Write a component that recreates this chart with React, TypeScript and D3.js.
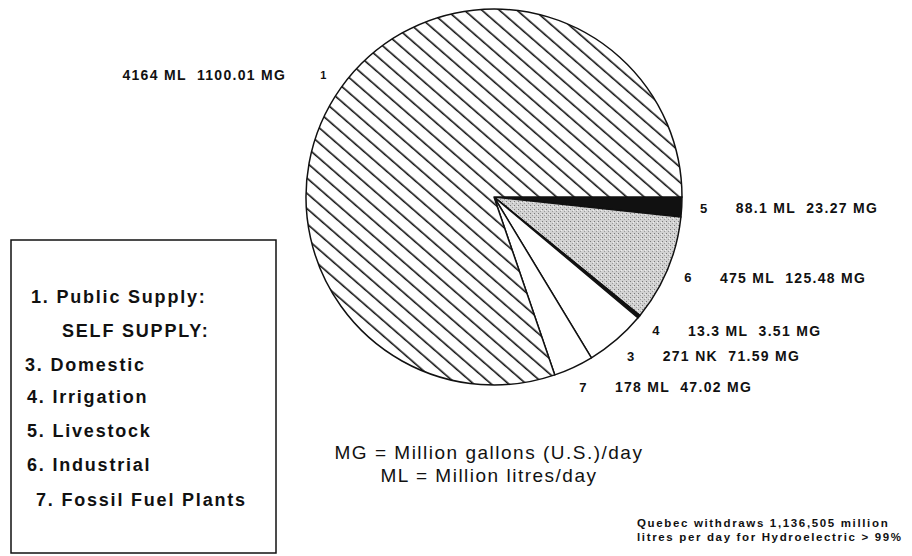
import * as d3 from 'd3';

// slices in drawing order, clockwise from 3 o'clock
const sliceIds = ['5', '6', '4', '3', '7', '1'];
const litres = [88.1, 475, 13.3, 271, 178, 4164];
const mlLabels = ['88.1 ML', '475 ML', '13.3 ML', '271 NK', '178 ML', '4164 ML'];
const mgLabels = ['23.27 MG', '125.48 MG', '3.51 MG', '71.59 MG', '47.02 MG', '1100.01 MG'];

const legendItems = [
  '1. Public Supply:',
  'SELF SUPPLY:',
  '3. Domestic',
  '4. Irrigation',
  '5. Livestock',
  '6. Industrial',
  '7. Fossil Fuel Plants',
];
const legendIndent = [20, 51, 14, 16, 16, 16, 25];

const unitNotes = ['MG = Million gallons (U.S.)/day', 'ML = Million litres/day'];
const footNotes = ['Quebec withdraws 1,136,505 million', 'litres per day for Hydroelectric > 99%'];

const fillFor = {
  '1': 'url(#hatch)',
  '5': '#111',
  '6': 'url(#stipple)',
  '4': '#111',
  '3': '#fff',
  '7': '#fff',
};

const width = 912;
const height = 556;
const cx = 494;
const cy = 197;
const radius = 188;
const font = '"Liberation Sans", Arial, Helvetica, sans-serif';

export default function App() {
  const slices = d3
    .pie<number>()
    .sort(null)
    .startAngle(Math.PI / 2)
    .endAngle(Math.PI / 2 + 2 * Math.PI)(litres);

  const arc = d3.arc<d3.PieArcDatum<number>>().innerRadius(0).outerRadius(radius);
  const labelArc = d3.arc<d3.PieArcDatum<number>>().innerRadius(210).outerRadius(210);

  return (
    <svg
      width={width}
      height={height}
      viewBox={`0 0 ${width} ${height}`}
      style={{ position: 'absolute', left: 0, top: 0, background: '#fff' }}
    >
      <defs>
        <pattern id="hatch" width="11.5" height="11.5" patternUnits="userSpaceOnUse" patternTransform="rotate(41)">
          <rect width="11.5" height="11.5" fill="#fff" />
          <line x1="0" y1="5" x2="11.5" y2="5" stroke="#111" strokeWidth="1.6" />
        </pattern>
        <pattern id="stipple" width="4" height="4" patternUnits="userSpaceOnUse">
          <rect width="4" height="4" fill="#d2d2d2" />
          <rect x="0" y="0" width="1" height="1" fill="#7a7a7a" />
          <rect x="2" y="2" width="1" height="1" fill="#9a9a9a" />
          <rect x="3" y="1" width="1" height="1" fill="#eeeeee" />
        </pattern>
      </defs>

      <g transform={`translate(${cx},${cy})`}>
        {slices.map((s, i) => (
          <path
            key={sliceIds[i]}
            d={arc(s) ?? ''}
            fill={fillFor[sliceIds[i]]}
            stroke="#111"
            strokeWidth={1.5}
            strokeLinejoin="round"
          />
        ))}
        {slices.map((s, i) => {
          const [lx, ly] = labelArc.centroid(s);
          const left = sliceIds[i] === '1';
          return (
            <g key={`lab-${sliceIds[i]}`} fontFamily={font} fontWeight="bold" fill="#111">
              <text x={lx} y={ly} dy="0.35em" textAnchor="middle" fontSize={left ? 11 : 13}>
                {sliceIds[i]}
              </text>
              <text
                x={left ? lx - 37 : lx + 32}
                y={ly}
                dy="0.35em"
                textAnchor={left ? 'end' : 'start'}
                fontSize={14}
                letterSpacing={1.3}
                style={{ whiteSpace: 'pre' }}
              >
                {`${mlLabels[i]}  ${mgLabels[i]}`}
              </text>
            </g>
          );
        })}
      </g>

      <rect x={11} y={240} width={265} height={313} fill="none" stroke="#111" strokeWidth={1.5} />
      {legendItems.map((item, i) => (
        <text
          key={item}
          x={11 + legendIndent[i]}
          y={[303, 337, 371, 403, 437, 471, 506][i]}
          fontFamily={font}
          fontWeight="bold"
          fontSize={18}
          letterSpacing={1.8}
          fill="#111"
        >
          {item}
        </text>
      ))}

      {unitNotes.map((note, i) => (
        <text
          key={note}
          x={489}
          y={459 + i * 23}
          textAnchor="middle"
          fontFamily={font}
          fontSize={19}
          letterSpacing={1.5}
          fill="#111"
        >
          {note}
        </text>
      ))}

      {footNotes.map((note, i) => (
        <text
          key={note}
          x={637}
          y={527 + i * 14}
          fontFamily={font}
          fontWeight="bold"
          fontSize={11.5}
          letterSpacing={1.65}
          fill="#111"
        >
          {note}
        </text>
      ))}
    </svg>
  );
}
